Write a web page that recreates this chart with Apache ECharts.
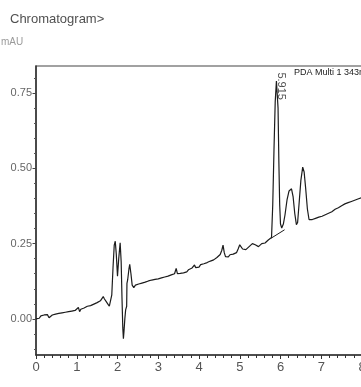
<!DOCTYPE html>
<html>
<head>
<meta charset="utf-8">
<script src="https://cdn.jsdelivr.net/npm/echarts@6/dist/echarts.min.js"></script>
<style>
html,body{margin:0;padding:0;background:#fff;}
#chart{width:361px;height:387px;}
</style>
</head>
<body>
<div id="chart"></div>
<script>
var titleText = 'Chromatogram>';
var unitText = 'mAU';
var seriesName = 'PDA Multi 1 343nm,4nm';
var peakLabel = '5.915';
var peakPoint = [5.915, 0.792];

var xTicks = [0, 1, 2, 3, 4, 5, 6, 7, 8];
var yMajorTicks = [0, 0.25, 0.5, 0.75];
var yMinorTicks = [-0.10, -0.05, 0.05, 0.10, 0.15, 0.20, 0.30, 0.35, 0.40, 0.45, 0.55, 0.60, 0.65, 0.70, 0.80];

var retentionTimes = [
0.00,0.04,0.08,0.12,0.16,0.20,0.24,0.28,0.32,0.36,0.40,0.44,0.48,0.52,0.56,0.60,0.64,0.68,0.72,0.76,
0.80,0.84,0.88,0.92,0.96,1.00,1.04,1.07,1.10,1.14,1.18,1.22,1.26,1.30,1.34,1.38,1.42,1.46,1.50,1.54,
1.58,1.62,1.65,1.68,1.72,1.76,1.80,1.83,1.86,1.89,1.92,1.945,1.97,2.00,2.03,2.065,2.09,2.11,2.13,2.145,
2.16,2.18,2.20,2.225,2.232,2.25,2.28,2.30,2.33,2.36,2.40,2.44,2.48,2.52,2.56,2.60,2.64,2.68,2.72,2.76,
2.80,2.84,2.88,2.92,2.96,3.00,3.04,3.08,3.12,3.16,3.20,3.24,3.28,3.32,3.36,3.40,3.44,3.47,3.50,3.54,
3.58,3.62,3.66,3.70,3.74,3.78,3.82,3.86,3.89,3.92,3.96,4.00,4.04,4.08,4.12,4.16,4.20,4.24,4.28,4.32,
4.36,4.40,4.44,4.48,4.52,4.56,4.59,4.62,4.65,4.68,4.72,4.76,4.80,4.84,4.88,4.92,4.96,5.00,5.03,5.07,
5.11,5.15,5.19,5.23,5.27,5.31,5.34,5.38,5.42,5.46,5.50,5.54,5.58,5.62,5.66,5.70,5.74,5.78,5.81,5.84,
5.87,5.90,5.92,5.94,5.96,5.98,6.00,6.03,6.07,6.11,6.16,6.21,6.27,6.31,6.35,6.39,6.42,6.46,6.50,6.545,
6.58,6.62,6.66,6.70,6.74,6.78,6.82,6.86,6.90,6.94,6.98,7.02,7.06,7.10,7.14,7.18,7.22,7.26,7.30,7.34,
7.38,7.42,7.46,7.50,7.54,7.58,7.62,7.66,7.70,7.74,7.78,7.82,7.86,7.90,7.94,7.98
];
var absorbance = [
0.000,0.004,0.002,0.010,0.007,0.013,0.009,0.014,0.004,0.010,0.013,0.010,0.016,0.013,0.018,0.016,0.020,0.018,0.022,0.020,
0.024,0.022,0.026,0.024,0.028,0.026,0.038,0.024,0.032,0.029,0.036,0.032,0.042,0.036,0.044,0.040,0.049,0.044,0.054,0.048,
0.060,0.054,0.074,0.066,0.058,0.050,0.042,0.048,0.080,0.170,0.245,0.258,0.215,0.142,0.200,0.253,0.190,0.070,-0.030,-0.066,
-0.040,0.000,0.030,0.042,0.118,0.130,0.165,0.181,0.150,0.112,0.104,0.112,0.108,0.116,0.113,0.119,0.115,0.122,0.119,0.126,
0.122,0.129,0.125,0.131,0.128,0.133,0.130,0.136,0.133,0.139,0.136,0.142,0.140,0.146,0.144,0.150,0.168,0.150,0.156,0.151,
0.156,0.153,0.159,0.156,0.163,0.160,0.168,0.170,0.179,0.170,0.176,0.172,0.180,0.176,0.183,0.179,0.187,0.184,0.192,0.189,
0.196,0.198,0.204,0.208,0.214,0.228,0.245,0.220,0.207,0.212,0.206,0.213,0.209,0.215,0.212,0.220,0.232,0.246,0.244,0.232,
0.226,0.230,0.235,0.240,0.244,0.250,0.252,0.246,0.244,0.240,0.243,0.250,0.254,0.252,0.258,0.262,0.264,0.270,0.380,0.560,
0.720,0.790,0.792,0.700,0.520,0.380,0.315,0.302,0.315,0.345,0.395,0.425,0.432,0.405,0.350,0.313,0.320,0.390,0.460,0.504,
0.488,0.430,0.365,0.330,0.324,0.330,0.327,0.334,0.331,0.338,0.335,0.341,0.339,0.346,0.344,0.351,0.349,0.356,0.358,0.364,
0.362,0.369,0.372,0.376,0.374,0.382,0.384,0.386,0.384,0.390,0.392,0.394,0.395,0.398,0.400,0.402
];
var integrationBaseline = [[5.77, 0.268], [6.10, 0.296]];

var traceData = retentionTimes.map(function (t, i) { return [t, absorbance[i]]; });

var FONT = '"Liberation Sans Narrow", "Liberation Sans", Arial, sans-serif';

var chart = echarts.init(document.getElementById('chart'), null, {renderer: 'canvas'});
chart.setOption({
  animation: false,
  backgroundColor: '#ffffff',
  grid: {
    left: 36, right: -1, top: 66, bottom: 32,
    show: true, borderColor: '#444', borderWidth: 1.2,
    outerBoundsMode: 'none', containLabel: false
  },
  graphic: [
    {type: 'text', left: 10, top: 13, style: {text: titleText, font: '13px ' + FONT, fill: '#505050'}},
    {type: 'text', left: 1, top: 37, style: {text: unitText, font: '10px ' + FONT, fill: '#9a9a9a'}}
  ],
  legend: {
    show: true, left: 289, top: 68, padding: 0, itemGap: 0,
    itemWidth: 0, itemHeight: 0,
    data: [{name: seriesName, icon: 'none'}],
    textStyle: {fontFamily: FONT, fontSize: 9, color: '#222', padding: 0}
  },
  xAxis: {
    type: 'value', min: 0, max: 8, interval: 1,
    axisLine: {show: true, onZero: false, lineStyle: {color: '#333', width: 1.5}},
    axisTick: {show: true, length: 4, lineStyle: {color: '#333', width: 1}},
    minorTick: {show: true, splitNumber: 5, length: 3, lineStyle: {color: '#333', width: 1}},
    splitLine: {show: false}, minorSplitLine: {show: false},
    axisLabel: {show: true, margin: 6, fontFamily: FONT, fontSize: 13, color: '#555',
      formatter: function (v) { return String(v); }}
  },
  yAxis: [
    {
      type: 'value', min: -0.12, max: 0.84, position: 'left',
      axisLine: {show: true, onZero: false, lineStyle: {color: '#333', width: 1.5}},
      axisTick: {show: true, length: 3.5, customValues: yMajorTicks, lineStyle: {color: '#444', width: 1}},
      splitLine: {show: false},
      axisLabel: {show: true, margin: 4, customValues: yMajorTicks, fontFamily: FONT, fontSize: 11, color: '#666',
        formatter: function (v) { return v.toFixed(2); }}
    },
    {
      type: 'value', min: -0.12, max: 0.84, position: 'left', offset: 0,
      axisLine: {show: false, onZero: false},
      axisTick: {show: true, length: 2, customValues: yMinorTicks, lineStyle: {color: '#555', width: 1}},
      splitLine: {show: false},
      axisLabel: {show: false}
    }
  ],
  series: [
    {
      name: seriesName, type: 'line', data: traceData, xAxisIndex: 0, yAxisIndex: 0,
      showSymbol: false, symbol: 'none', smooth: false,
      lineStyle: {color: '#1c1c1c', width: 1.2}, itemStyle: {color: '#1c1c1c'},
      z: 3
    },
    {
      name: 'baseline', type: 'line', data: integrationBaseline,
      showSymbol: false, symbol: 'none',
      lineStyle: {color: '#1c1c1c', width: 1}, z: 2
    },
    {
      name: 'peak', type: 'scatter', data: [peakPoint], symbolSize: 0,
      label: {show: true, formatter: peakLabel, position: [4, -8], rotate: -90,
        align: 'left', verticalAlign: 'middle',
        fontFamily: FONT, fontSize: 11, color: '#222'},
      z: 4
    }
  ]
});
</script>
</body>
</html>
